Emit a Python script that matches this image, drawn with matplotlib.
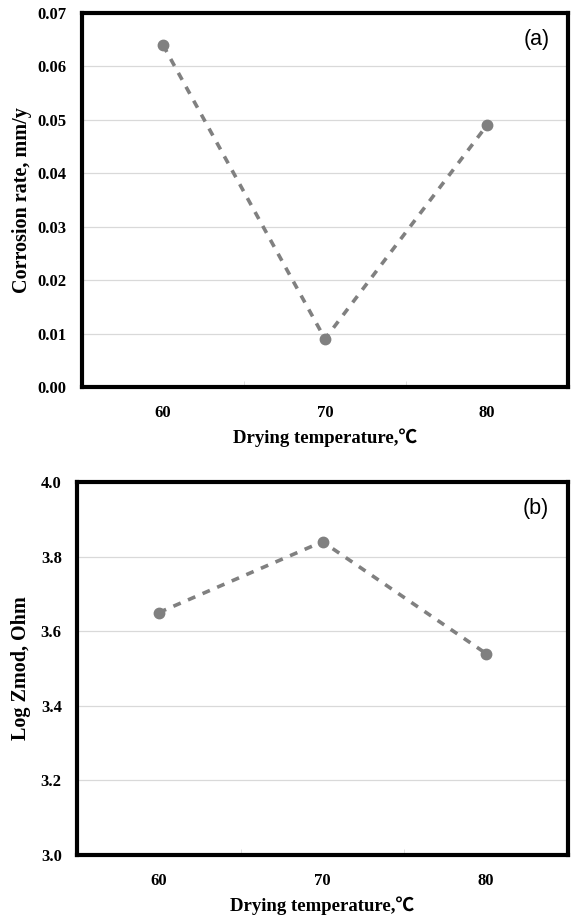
import matplotlib.pyplot as plt

# drying temperature categories and measured values
temps = ['60', '70', '80']
corrosion_rate = [0.064, 0.009, 0.049]
log_zmod = [3.65, 3.84, 3.54]

serif = ['Liberation Serif', 'Noto Sans CJK KR', 'DejaVu Serif']
grey = '#808080'


def draw_panel(ax, values, ylim, yticks, fmt, ylabel, tag, ypad):
    x = list(range(1, len(values) + 1))
    ax.plot(x, values, color=grey, lw=2.6, dashes=(2.2, 2.2), zorder=3)
    ax.plot(x, values, 'o', color=grey, ms=7.5, zorder=4)
    ax.set_xlim(0.5, len(values) + 0.5)
    ax.set_ylim(*ylim)
    ax.set_yticks(yticks)
    ax.set_yticklabels([fmt.format(v) for v in yticks], family=serif,
                       fontweight='bold', fontsize=12)
    ax.set_xticks(x)
    ax.set_xticklabels(temps, family=serif, fontweight='bold', fontsize=12)
    ax.set_xticks([1.5, 2.5], minor=True)
    ax.tick_params(axis='y', which='major', length=0, pad=11)
    ax.tick_params(axis='x', which='major', length=0, pad=13)
    ax.tick_params(axis='x', which='minor', length=4, color='#d9d9d9',
                   direction='in')
    ax.grid(axis='y', color='#d9d9d9', lw=0.9)
    ax.set_axisbelow(True)
    for s in ax.spines.values():
        s.set_linewidth(3)
        s.set_color('black')
    ax.set_xlabel('Drying temperature,\u2103', family=serif,
                  fontweight='bold', fontsize=13.5, labelpad=5)
    ax.set_ylabel(ylabel, family=serif, fontweight='bold', fontsize=14.5,
                  labelpad=ypad)
    ax.text(0.935, 0.93, tag, transform=ax.transAxes, ha='center',
            va='center', family='Liberation Sans', fontsize=15.5)


fig = plt.figure(figsize=(5.74, 9.18), dpi=100)
W, H = 574, 918
ax1 = fig.add_axes([82 / W, 1 - 387 / H, 486 / W, 374 / H])
ax2 = fig.add_axes([77 / W, 1 - 855 / H, 491 / W, 373 / H])

draw_panel(ax1, corrosion_rate, (0, 0.07),
           [0, 0.01, 0.02, 0.03, 0.04, 0.05, 0.06, 0.07], '{:.2f}',
           'Corrosion rate, mm/y', '(a)', 4)
draw_panel(ax2, log_zmod, (3.0, 4.0),
           [3.0, 3.2, 3.4, 3.6, 3.8, 4.0], '{:.1f}',
           'Log Zmod, Ohm', '(b)', 7)

fig.savefig('out.png', dpi=100)
